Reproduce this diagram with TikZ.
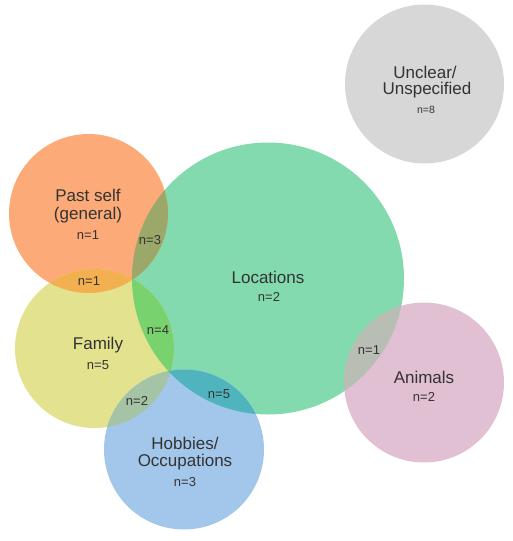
\documentclass[tikz,border=0pt]{standalone}
\usepackage{fontspec}
\setmainfont{Liberation Sans}
\definecolor{cgray}{HTML}{D7D7D7}
\definecolor{corange}{HTML}{FCAA78}
\definecolor{cyellow}{HTML}{E3E38F}
\definecolor{cblue}{HTML}{A3C7EB}
\definecolor{cgreen}{HTML}{82DAAE}
\definecolor{cpink}{HTML}{E0C0D2}
\definecolor{xOG}{HTML}{9BA869}
\definecolor{xOY}{HTML}{F3B050}
\definecolor{xYG}{HTML}{78D26E}
\definecolor{xYB}{HTML}{A5C3A5}
\definecolor{xBG}{HTML}{50B4BE}
\definecolor{xGP}{HTML}{B9BEB4}
\definecolor{txt}{HTML}{333333}
\begin{document}
\begin{tikzpicture}[x=1pt,y=-1pt,
  ring/.style={circle, inner sep=0pt, draw=none, minimum size=#1},
  title/.style={font=\fontsize{17}{19}\selectfont, text=txt, align=center},
  count/.style={font=\fontsize{13}{14}\selectfont, text=txt},
  smallcount/.style={font=\fontsize{10.5}{12}\selectfont, text=txt}]
\useasboundingbox (0,0) rectangle (512,541);
% circles
\node[ring=159pt, fill=cgray]   (gray)   at (424.5,84) {};
\node[ring=272pt, fill=cgreen]  (green)  at (268,278.5) {};
\node[ring=159pt, fill=corange] (orange) at (88.5,213.5) {};
\node[ring=159pt, fill=cyellow] (yellow) at (94.5,348.5) {};
\node[ring=160pt, fill=cblue]   (blue)   at (184,449.5) {};
\node[ring=160pt, fill=cpink]   (pink)   at (424,382.5) {};
% intersections
\begin{scope}
  \clip (orange.center) circle (79.5pt);
  \fill[xOY] (yellow.center) circle (79.5pt);
\end{scope}
\begin{scope}
  \clip (yellow.center) circle (79.5pt);
  \fill[xYB] (blue.center) circle (80pt);
\end{scope}
\begin{scope}
  \clip (green.center) circle (136pt);
  \fill[xOG] (orange.center) circle (79.5pt);
  \fill[xYG] (yellow.center) circle (79.5pt);
  \fill[xBG] (blue.center) circle (80pt);
  \fill[xGP] (pink.center) circle (80pt);
\end{scope}
% labels
\node[title] (tU1) at (425,72) {Unclear/};
\node[title] (tU2) at (427,90) {Unspecified};
\node[smallcount] (nU) at (426,110) {n=8};
\node[title] (tP1) at (88,195) {Past self};
\node[title] (tP2) at (88,215) {(general)};
\node[count] (nP) at (88,235) {n=1};
\node[count] (nPG) at (150,240) {n=3};
\node[count] (nPY) at (89,281) {n=1};
\node[title] (tL) at (268,277) {Locations};
\node[count] (nL) at (269,297) {n=2};
\node[count] (nYG) at (158,330) {n=4};
\node[title] (tF) at (98,345) {Family};
\node[count] (nF) at (98,365) {n=5};
\node[count] (nYB) at (137,401) {n=2};
\node[count] (nBG) at (219,394) {n=5};
\node[title] (tH1) at (185,443) {Hobbies/};
\node[title] (tH2) at (185,462) {Occupations};
\node[count] (nH) at (185,482) {n=3};
\node[count] (nGP) at (369,350) {n=1};
\node[title] (tA) at (424,377) {Animals};
\node[count] (nA) at (424,397) {n=2};
\end{tikzpicture}
\end{document}
